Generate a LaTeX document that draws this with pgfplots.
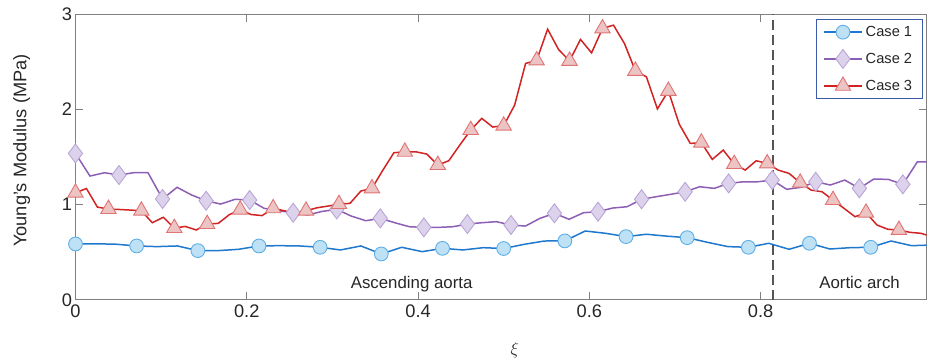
\documentclass[border=0pt]{standalone}
\usepackage{pgfplots}
\pgfplotsset{compat=1.18}
\usepackage{fontspec}
\setmainfont{Liberation Sans}
\definecolor{axisgray}{RGB}{128,128,128}
\definecolor{labelgray}{RGB}{38,38,38}
\definecolor{bline}{RGB}{30,120,205}
\definecolor{bfill}{RGB}{190,225,245}
\definecolor{bedge}{RGB}{95,175,230}
\definecolor{pline}{RGB}{140,95,180}
\definecolor{pfill}{RGB}{220,210,235}
\definecolor{pedge}{RGB}{185,165,215}
\definecolor{rline}{RGB}{210,35,35}
\definecolor{rfill}{RGB}{236,196,196}
\definecolor{redge}{RGB}{225,115,115}
\definecolor{legborder}{RGB}{60,90,170}
\definecolor{dashgray}{RGB}{85,85,85}

\pgfplotstableread{
x y
0 0.588
0.0238 0.590
0.0476 0.585
0.0714 0.567
0.0952 0.560
0.1190 0.567
0.1429 0.518
0.1667 0.518
0.1905 0.532
0.2143 0.567
0.2381 0.570
0.2619 0.567
0.2857 0.553
0.3095 0.525
0.3333 0.567
0.3571 0.483
0.3810 0.553
0.4048 0.507
0.4286 0.542
0.4524 0.525
0.4762 0.549
0.5000 0.540
0.5238 0.584
0.5476 0.619
0.5714 0.620
0.5952 0.724
0.6190 0.700
0.6429 0.665
0.6667 0.690
0.6905 0.670
0.7143 0.654
0.7381 0.605
0.7619 0.560
0.7857 0.553
0.8095 0.595
0.8333 0.532
0.8571 0.595
0.8810 0.535
0.9048 0.549
0.9286 0.553
0.9524 0.619
0.9762 0.570
1.0000 0.577
}\caseone

\pgfplotstableread{
x y
0 1.539
0.0169 1.301
0.0339 1.336
0.0508 1.312
0.0678 1.336
0.0847 1.336
0.1017 1.060
0.1186 1.183
0.1356 1.102
0.1525 1.042
0.1695 1.007
0.1864 1.057
0.2034 1.049
0.2203 0.962
0.2373 0.937
0.2542 0.916
0.2712 0.892
0.2881 0.930
0.3051 0.951
0.3220 0.881
0.3390 0.832
0.3559 0.857
0.3729 0.811
0.3898 0.769
0.4068 0.762
0.4237 0.762
0.4407 0.769
0.4576 0.797
0.4746 0.811
0.4915 0.822
0.5085 0.787
0.5254 0.776
0.5424 0.857
0.5593 0.910
0.5763 0.847
0.5932 0.916
0.6102 0.927
0.6271 0.965
0.6441 0.979
0.6610 1.057
0.6780 1.084
0.6949 1.109
0.7119 1.136
0.7288 1.189
0.7458 1.172
0.7627 1.224
0.7797 1.241
0.7966 1.241
0.8136 1.259
0.8305 1.162
0.8475 1.183
0.8644 1.241
0.8814 1.207
0.8983 1.259
0.9153 1.172
0.9322 1.270
0.9492 1.266
0.9661 1.214
0.9831 1.451
1.0000 1.451
}\casetwo

\pgfplotstableread{
x y
0 1.126
0.0128 1.170
0.0256 0.975
0.0385 0.955
0.0513 0.950
0.0641 0.944
0.0769 0.937
0.0897 0.811
0.1026 0.868
0.1154 0.755
0.1282 0.772
0.1410 0.735
0.1538 0.797
0.1667 0.804
0.1795 0.895
0.1923 0.948
0.2051 0.897
0.2179 0.886
0.2308 0.962
0.2436 0.937
0.2564 0.910
0.2692 0.937
0.2821 0.968
0.2949 0.986
0.3077 1.007
0.3205 1.014
0.3333 1.144
0.3462 1.172
0.3590 1.364
0.3718 1.546
0.3846 1.556
0.3974 1.556
0.4103 1.532
0.4231 1.417
0.4359 1.462
0.4487 1.626
0.4615 1.784
0.4744 1.907
0.4872 1.816
0.5000 1.830
0.5128 2.046
0.5256 2.484
0.5385 2.515
0.5513 2.844
0.5641 2.630
0.5769 2.511
0.5897 2.736
0.6026 2.595
0.6154 2.851
0.6282 2.886
0.6410 2.694
0.6538 2.406
0.6667 2.343
0.6795 2.006
0.6923 2.195
0.7051 1.845
0.7179 1.644
0.7308 1.652
0.7436 1.476
0.7564 1.574
0.7692 1.427
0.7821 1.364
0.7949 1.462
0.8077 1.434
0.8205 1.364
0.8333 1.329
0.8462 1.231
0.8590 1.154
0.8718 1.136
0.8846 1.049
0.8974 0.962
0.9103 0.874
0.9231 0.916
0.9359 0.787
0.9487 0.742
0.9615 0.735
0.9744 0.710
0.9872 0.700
1.0000 0.665
}\casethree

\begin{document}
\begin{tikzpicture}
\begin{axis}[
  scale only axis,
  width=851.2bp, height=285.7bp,
  xmin=0, xmax=0.9938, ymin=0, ymax=3,
  xtick={0,0.2,0.4,0.6,0.8}, ytick={0,1,2,3},
  xticklabels={0,0.2,0.4,0.6,0.8},
  yticklabels={0,1,2,3},
  tick align=inside, tick pos=both,
  major tick length=8bp,
  axis line style={draw=axisgray, line width=0.9bp},
  every tick/.style={draw=axisgray, line width=0.9bp},
  tick label style={font=\fontsize{18.3}{20}\selectfont, text=labelgray},
  xticklabel style={yshift=-1.5bp},
  /pgf/number format/assume math mode=true,
  ylabel={Young's Modulus (MPa)},
  ylabel style={at={(axis description cs:-0.0632,0.523)}, anchor=center,
    font=\fontsize{18.3}{20}\selectfont, text=labelgray},
  xlabel={$\xi$},
  xlabel style={at={(axis description cs:0.516,0)}, anchor=center, yshift=-50bp,
    font=\fontsize{17}{20}\selectfont, text=labelgray},
  legend style={at={(axis description cs:1,1)}, anchor=north east,
    xshift=-4bp, yshift=-4.7bp,
    draw=legborder, line width=0.9bp, fill=white,
    font=\fontsize{14.7}{17}\selectfont, text=labelgray,
    row sep=8.5bp, inner xsep=7bp, inner ysep=4bp,
    nodes={text height=10.5bp, text depth=1bp, inner sep=3bp}},
  legend cell align=left,
  legend image code/.code={%
    \draw[#1, mark repeat=2, mark phase=2] plot coordinates {(0bp,0bp) (19bp,0bp) (38bp,0bp)};},
]
\addplot[bline, line width=1.5bp, mark=*, mark repeat=3, mark size=6.9bp,
  mark options={solid, fill=bfill, draw=bedge, line width=0.9bp}] table[x=x,y=y] {\caseone};
\addlegendentry{Case 1}
\addplot[pline, line width=1.5bp, mark=diamond*, mark repeat=3, mark size=9.5bp,
  mark options={solid, fill=pfill, draw=pedge, line width=0.9bp}] table[x=x,y=y] {\casetwo};
\addlegendentry{Case 2}
\addplot[rline, line width=1.5bp, mark=triangle*, mark repeat=3, mark size=8.9bp,
  mark options={solid, fill=rfill, draw=redge, line width=0.9bp}] table[x=x,y=y] {\casethree};
\addlegendentry{Case 3}
\addplot[dashgray, line width=2bp, dash pattern=on 10bp off 5bp, forget plot]
  coordinates {(0.814,0) (0.814,3)};
\node[anchor=base, font=\fontsize{16.9}{20}\selectfont, text=labelgray] at (axis cs:0.3925,0.123) {Ascending aorta};
\node[anchor=base, font=\fontsize{16.9}{20}\selectfont, text=labelgray] at (axis cs:0.9156,0.123) {Aortic arch};
\coordinate (sw) at (rel axis cs:0,0);
\coordinate (ne) at (rel axis cs:1,1);
\end{axis}
\useasboundingbox ([xshift=-75.5bp, yshift=-60bp]sw) rectangle ([xshift=0.3bp, yshift=14.3bp]ne);
\end{tikzpicture}
\end{document}
